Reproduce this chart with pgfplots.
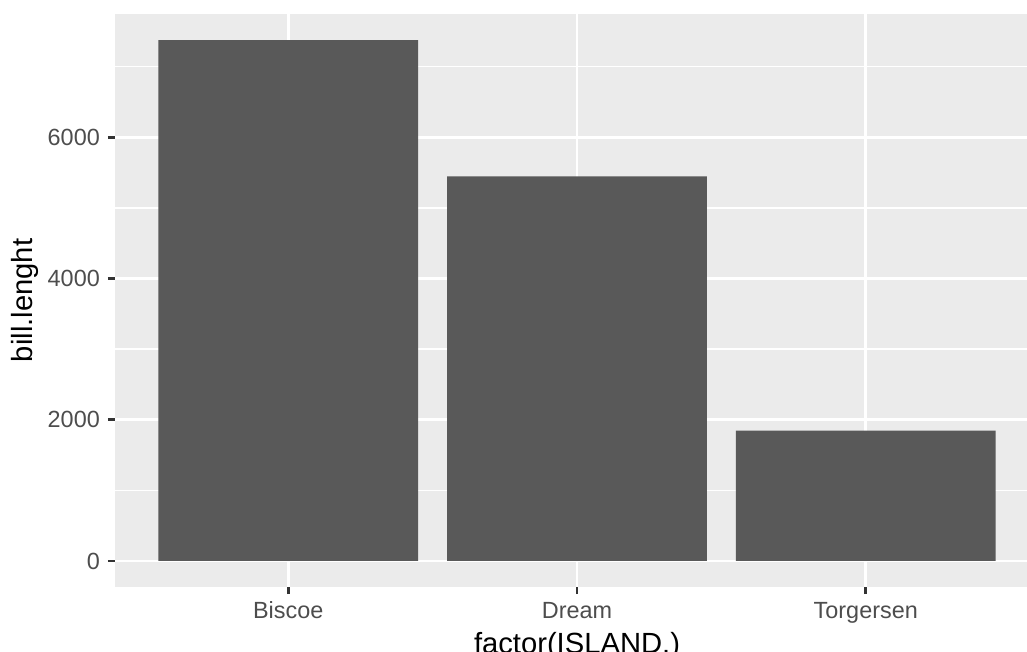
\documentclass[border=0pt]{standalone}
\usepackage{pgfplots}
\pgfplotsset{compat=1.18}
\usepackage{fontspec}
\setmainfont{Liberation Sans}
\definecolor{panelbg}{HTML}{EBEBEB}
\definecolor{barc}{HTML}{595959}
\definecolor{labc}{HTML}{4D4D4D}
\definecolor{tickc}{HTML}{333333}
\begin{document}
\begin{tikzpicture}
\useasboundingbox (0,0) rectangle (1027bp,652bp);
\begin{axis}[
  at={(115bp,65bp)}, anchor=south west,
  scale only axis, width=924bp, height=573bp,
  xmin=0.4, xmax=3.6, ymin=-369, ymax=7745,
  ybar, bar width=0.9,
  xtick={1,2,3}, xticklabels={Biscoe,Dream,Torgersen},
  ytick={0,2000,4000,6000},
  minor ytick={1000,3000,5000,7000},
  grid=both,
  major grid style={white, line width=2.7bp},
  minor grid style={white, line width=1.35bp},
  axis background/.style={fill=panelbg},
  axis line style={draw=none},
  tick align=outside,
  tick pos=left,
  major tick length=7bp,
  minor tick length=0pt,
  tick style={color=tickc, line width=2.7bp},
  scaled y ticks=false,
  /pgf/number format/1000 sep={},
  /pgf/number format/assume math mode=true,
  yticklabel style={font=\fontsize{23.5}{28}\selectfont, text=labc, anchor=east, inner sep=0pt, xshift=-8bp},
  xticklabel style={font=\fontsize{23.5}{28}\selectfont, text=labc, anchor=base, inner sep=0pt, yshift=-24bp},
  xlabel={factor(ISLAND.)}, ylabel={bill.lenght},
  every axis x label/.style={at={(rel axis cs:0.5,0)}, anchor=base, yshift=-66bp, font=\fontsize{29.3}{35}\selectfont},
  every axis y label/.style={at={(rel axis cs:0,0.5)}, xshift=-82bp, rotate=90, anchor=base, font=\fontsize{29.3}{35}\selectfont},
]
\addplot[fill=barc, draw=none] coordinates {(1,7376) (2,5447) (3,1844)};
\end{axis}
\end{tikzpicture}
\end{document}
